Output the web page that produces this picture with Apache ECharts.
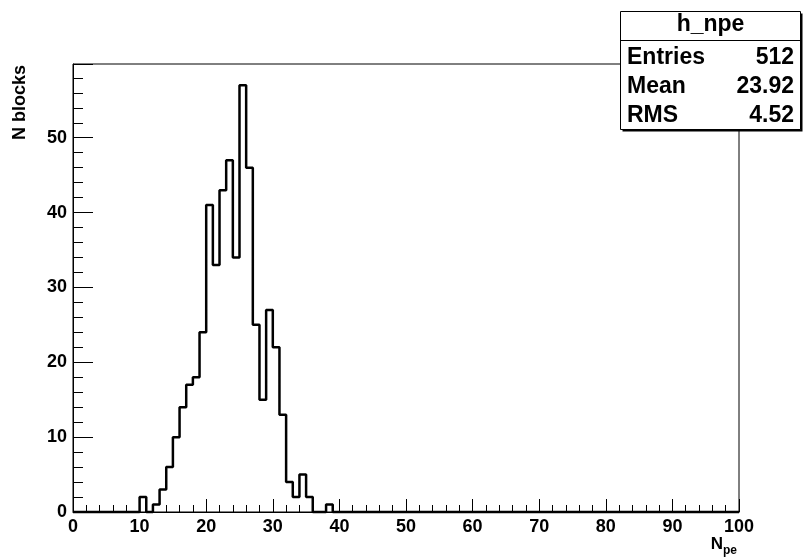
<!DOCTYPE html>
<html>
<head>
<meta charset="utf-8">
<script src="https://cdn.jsdelivr.net/npm/echarts@6/dist/echarts.min.js"></script>
<style>
  html, body { margin: 0; padding: 0; background: #fff; }
  #chart { width: 803px; height: 558px; }
</style>
</head>
<body>
<div id="chart"></div>
<script>
// Histogram h_npe: number of photo-electrons per block, 100 bins of width 1 on [0, 100)
const binWidth = 1;
const counts = [
  0, 0, 0, 0, 0, 0, 0, 0, 0, 0,
  2, 0, 1, 3, 6, 10, 14, 17, 18, 24,
  41, 33, 43, 47, 34, 57, 46, 25, 15, 27,
  22, 13, 4, 2, 5, 2, 0, 0, 1, 0,
  0, 0, 0, 0, 0, 0, 0, 0, 0, 0,
  0, 0, 0, 0, 0, 0, 0, 0, 0, 0,
  0, 0, 0, 0, 0, 0, 0, 0, 0, 0,
  0, 0, 0, 0, 0, 0, 0, 0, 0, 0,
  0, 0, 0, 0, 0, 0, 0, 0, 0, 0,
  0, 0, 0, 0, 0, 0, 0, 0, 0, 0
];
const xTickLabels = ['0', '10', '20', '30', '40', '50', '60', '70', '80', '90', '100'];
const yTickLabels = ['0', '10', '20', '30', '40', '50'];
const xRange = [0, 100];
const yRange = [0, 59.85];

// Statistics box
const statTitle = 'h_npe';
const statNames = ['Entries', 'Mean', 'RMS'];
const statValues = ['512', '23.92', '4.52'];

const FONT = '"Liberation Sans", Arial, Helvetica, sans-serif';

// Outline of the histogram: one horizontal segment per bin, joined by verticals
const outline = [];
counts.forEach((c, i) => {
  outline.push([xRange[0] + i * binWidth, c]);
  outline.push([xRange[0] + (i + 1) * binWidth, c]);
});

const chart = echarts.init(document.getElementById('chart'), null, { renderer: 'canvas' });

const box = { x: 620.5, y: 11.5, w: 180, h: 118, sep: 40.5 };
const rowY = [58, 87, 116];

const graphics = [
  { type: 'rect', z: 100, shape: { x: box.x + 2, y: box.y + 2, width: box.w, height: box.h }, style: { fill: '#000' } },
  { type: 'rect', z: 101, shape: { x: box.x, y: box.y, width: box.w, height: box.h }, style: { fill: '#fff', stroke: '#000', lineWidth: 1 } },
  { type: 'line', z: 102, shape: { x1: box.x, y1: box.sep, x2: box.x + box.w, y2: box.sep }, style: { stroke: '#000', lineWidth: 1 } },
  { type: 'text', z: 103, x: box.x + box.w / 2, y: 25,
    style: { text: statTitle, font: 'bold 23px ' + FONT, fill: '#000', textAlign: 'center', textVerticalAlign: 'middle' } },
  // axis titles
  { type: 'text', z: 103, x: 20, y: 65, rotation: Math.PI / 2,
    style: { text: 'N blocks', font: 'bold 18px ' + FONT, fill: '#000', textAlign: 'right', textVerticalAlign: 'middle' } },
  { type: 'text', z: 103, x: 723, y: 544,
    style: { text: 'N', font: 'bold 17px ' + FONT, fill: '#000', textAlign: 'right', textVerticalAlign: 'middle' } },
  { type: 'text', z: 103, x: 723, y: 551,
    style: { text: 'pe', font: 'bold 12px ' + FONT, fill: '#000', textAlign: 'left', textVerticalAlign: 'middle' } }
];
statNames.forEach((name, i) => {
  graphics.push({ type: 'text', z: 103, x: 627, y: rowY[i],
    style: { text: name, font: 'bold 23px ' + FONT, fill: '#000', textAlign: 'left', textVerticalAlign: 'middle' } });
  graphics.push({ type: 'text', z: 103, x: 794, y: rowY[i],
    style: { text: statValues[i], font: 'bold 23px ' + FONT, fill: '#000', textAlign: 'right', textVerticalAlign: 'middle' } });
});

const labelStyle = { color: '#000', fontFamily: FONT, fontWeight: 'bold', fontSize: 18 };

chart.setOption({
  animation: false,
  backgroundColor: '#fff',
  grid: {
    left: 73, right: 64, top: 64, bottom: 46,
    show: true, borderColor: '#000', borderWidth: 1, backgroundColor: 'transparent'
  },
  xAxis: {
    type: 'value', min: xRange[0], max: xRange[1], interval: 10,
    axisLine: { show: true, lineStyle: { color: '#000', width: 1 } },
    axisTick: { show: true, inside: true, length: 13, lineStyle: { color: '#000', width: 1 } },
    minorTick: { show: true, splitNumber: 5, length: 7, lineStyle: { color: '#000', width: 1 } },
    splitLine: { show: false },
    axisLabel: Object.assign({ margin: 6, formatter: v => xTickLabels[Math.round(v / 10)] }, labelStyle)
  },
  yAxis: [
    {
      type: 'value', position: 'left', min: yRange[0], max: yRange[1], interval: 10,
      axisLine: { show: true, lineStyle: { color: '#000', width: 1 } },
      axisTick: { show: true, inside: true, length: 20, lineStyle: { color: '#000', width: 1 } },
      splitLine: { show: false },
      axisLabel: Object.assign({
        margin: 6,
        formatter: v => (Math.abs(v / 10 - Math.round(v / 10)) < 1e-6 ? yTickLabels[Math.round(v / 10)] : '')
      }, labelStyle)
    },
    {
      type: 'value', position: 'left', min: yRange[0], max: yRange[1], interval: 2,
      axisLine: { show: false },
      axisTick: { show: true, inside: true, length: 10, lineStyle: { color: '#000', width: 1 } },
      splitLine: { show: false },
      axisLabel: { show: false }
    }
  ],
  graphic: graphics,
  series: [{
    type: 'line',
    xAxisIndex: 0, yAxisIndex: 0,
    data: outline,
    showSymbol: false,
    clip: false,
    lineStyle: { color: '#000', width: 2.5 },
    silent: true
  }]
});
</script>
</body>
</html>
